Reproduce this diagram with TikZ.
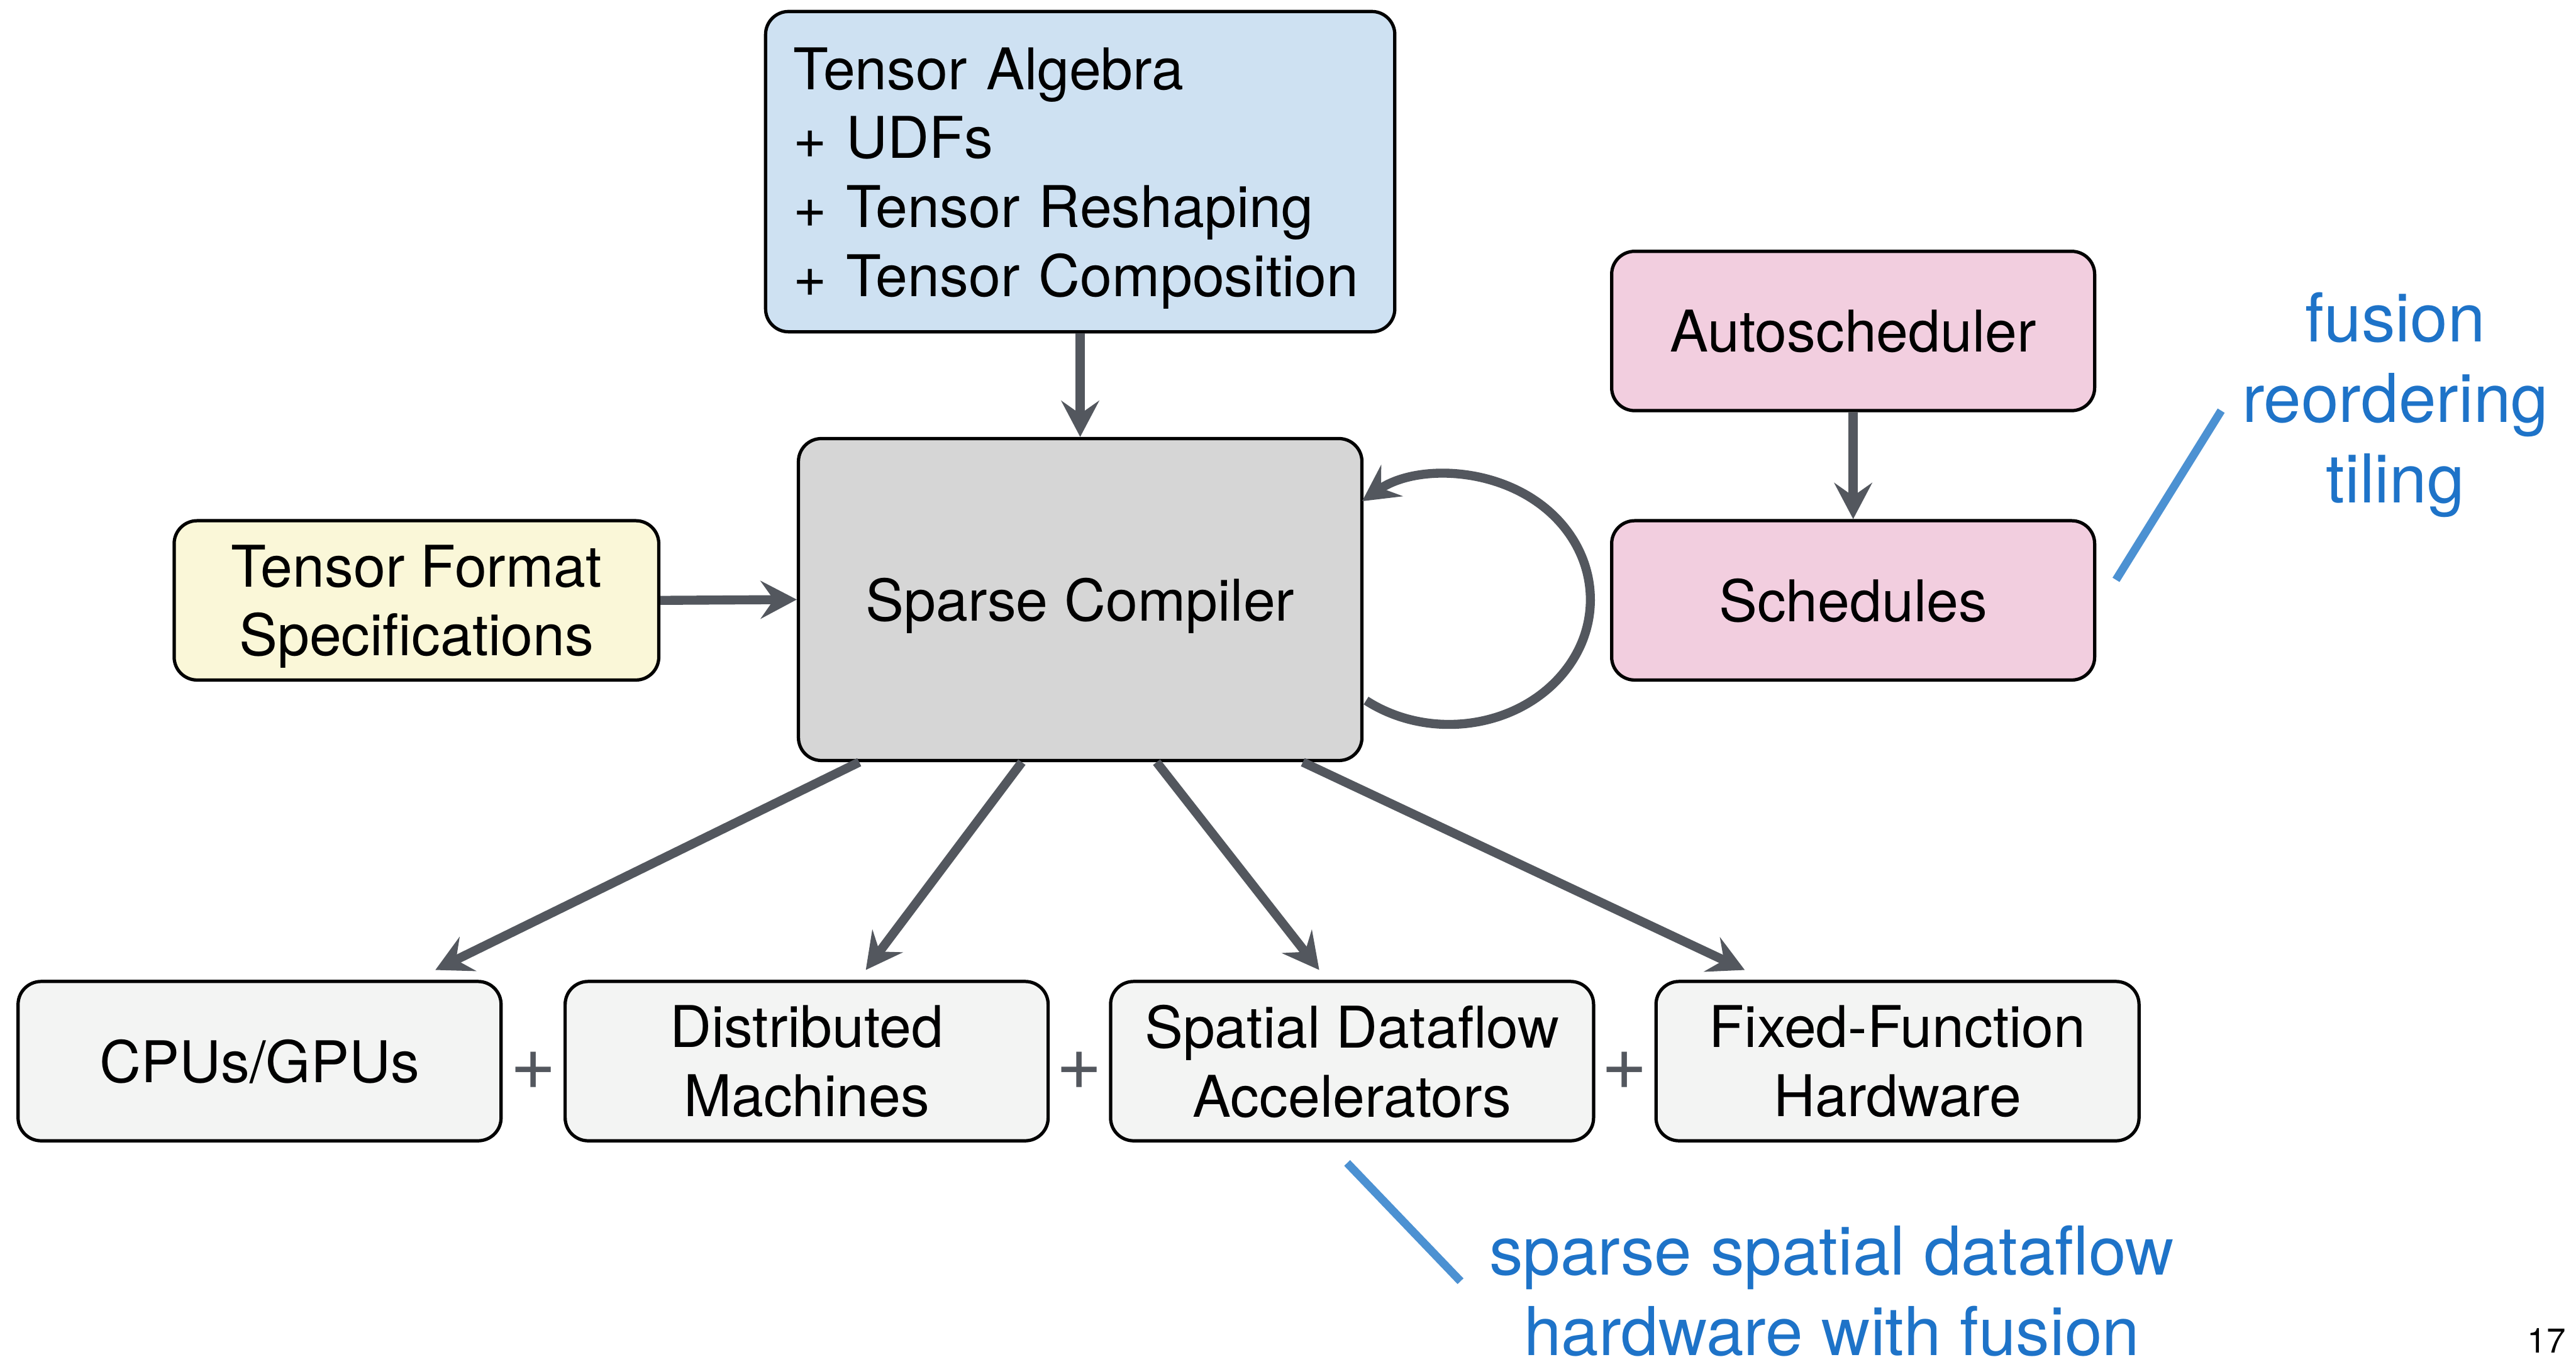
\documentclass[tikz,border=0pt]{standalone}
\usepackage{fontspec}
\setmainfont{TeX Gyre Heros}
\usetikzlibrary{arrows.meta,calc}
\definecolor{algblue}{RGB}{206,225,242}
\definecolor{compgray}{RGB}{214,214,214}
\definecolor{fmtyellow}{RGB}{250,247,216}
\definecolor{schedpink}{RGB}{242,206,223}
\definecolor{hwgray}{RGB}{243,244,243}
\definecolor{arrowgray}{RGB}{83,87,94}
\definecolor{noteline}{RGB}{76,145,210}
\definecolor{notetext}{RGB}{30,115,200}
\begin{document}
\begin{tikzpicture}[x=1pt,y=-1pt,
  box/.style={draw=black, line width=2pt, rounded corners=14pt, inner sep=0pt,
    align=center, font=\fontsize{35}{42}\selectfont, text depth=0pt},
  smallbox/.style={box, minimum width=294pt, minimum height=97pt},
  flow/.style={draw=arrowgray, line width=5.5pt,
    -{Stealth[length=22pt,width=23pt,inset=8pt]}},
  plus/.style={text=arrowgray, font=\fontsize{48}{48}\selectfont, inner sep=0pt},
  note/.style={draw=noteline, line width=5pt},
  notetext/.style={text=notetext, font=\fontsize{41}{49}\selectfont, align=center, inner sep=0pt}]
\useasboundingbox (0,0) rectangle (1568,829);

% input specification and compiler
\node[box, fill=algblue, minimum width=383pt, minimum height=195pt,
  text width=349pt, align=left, text depth=,
  execute at begin node={\rule{0pt}{33.5pt}}] (alg) at (657.5,104.5)
  {Tensor Algebra\\+ UDFs\\+ Tensor Reshaping\\+ Tensor Composition};
\node[box, fill=compgray, minimum width=343pt, minimum height=196pt] (sc) at (657.5,365) {Sparse Compiler};
\node[smallbox, fill=fmtyellow, minimum width=295pt] (fmt) at (253.5,365.5) {Tensor Format\\Specifications};

% scheduling
\node[smallbox, fill=schedpink] (auto) at (1128,201.5) {Autoscheduler};
\node[smallbox, fill=schedpink] (sched) at (1128,365.5) {Schedules};

% hardware targets
\node[smallbox, fill=hwgray] (cpu) at (158,646) {CPUs/GPUs};
\node[smallbox, fill=hwgray] (dist) at (491,646) {Distributed\\Machines};
\node[smallbox, fill=hwgray] (sda) at (823,646) {Spatial Dataflow\\Accelerators};
\node[smallbox, fill=hwgray] (ffh) at (1155,646) {Fixed-Function\\Hardware};

\node[plus] (p1) at (324.5,652) {+};
\node[plus] (p2) at (657,652) {+};
\node[plus] (p3) at (989,652) {+};

% connectors
\draw[flow] (alg.south) -- (sc.north);
\draw[flow] (fmt.east) -- (sc.west);
\draw[flow] (auto.south) -- (sched.north);
\draw[flow] ($(sc.south west)+(38,0)$) -- ($(cpu.north)+(107,-6)$);
\draw[flow] ($(sc.south west)+(137,0)$) -- ($(dist.north)+(36,-6)$);
\draw[flow] ($(sc.south west)+(219,0)$) -- ($(sda.north)+(-20,-6)$);
\draw[flow] ($(sc.south west)+(308,0)$) -- ($(ffh.north)+(-93,-6)$);

% compiler self-loop
\coordinate (loopstart) at ($(sc.east)+(1.5,61.5)$);
\draw[flow] (loopstart) arc[start angle=126, end angle=-128, x radius=86, y radius=76];

% annotations
\node[notetext] (opts) at (1458,246.5) {fusion\\reordering\\tiling};
\coordinate (n1a) at (1288,353);
\coordinate (n1b) at (1352,250);
\draw[note] (n1a) -- (n1b);

\node[notetext] (hwnote) at (1115,786) {sparse spatial dataflow\\hardware with fusion};
\coordinate (n2a) at (820,708);
\coordinate (n2b) at (889,780);
\draw[note] (n2a) -- (n2b);

\node[font=\fontsize{21}{21}\selectfont, inner sep=0pt] (page) at (1550,816) {17};
\end{tikzpicture}
\end{document}
